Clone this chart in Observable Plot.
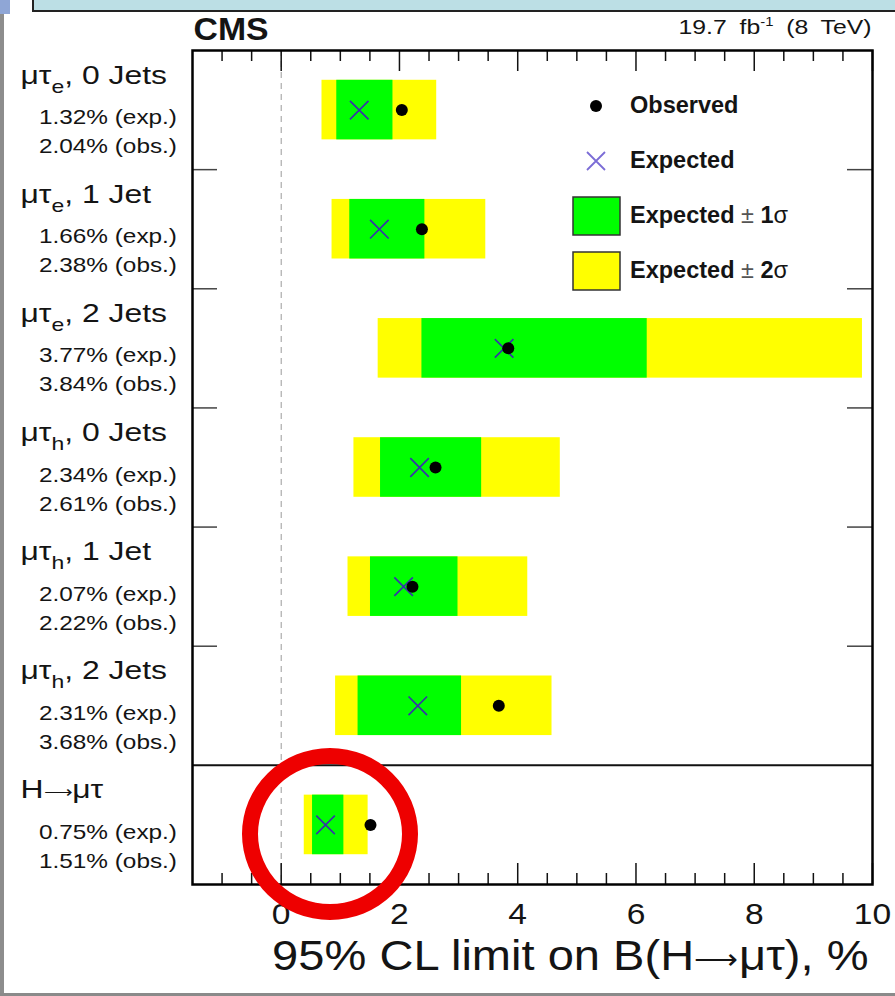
<!DOCTYPE html>
<html>
<head>
<meta charset="utf-8">
<script src="https://cdn.jsdelivr.net/npm/d3@7"></script>
<script src="https://cdn.jsdelivr.net/npm/@observablehq/plot@0.6"></script>
<style>
  html, body { margin: 0; padding: 0; background: #ffffff; }
  #wrap { position: relative; width: 895px; height: 996px; overflow: hidden; background: #fff; }
  #wrap svg { position: absolute; left: 0; top: 0; }
  .deco-top { position: absolute; left: 32px; top: 0; width: 870px; height: 10px; background: #bcdfe5;
              border-left: 2px solid #222; border-bottom: 2px solid #222; }
  .deco-left { position: absolute; left: 0; top: 0; width: 4px; height: 996px; background: #8d8d8d; }
  .deco-left-top { position: absolute; left: 0; top: 0; width: 10px; height: 14px; background: #8fa6d6; }
  .deco-bottom { position: absolute; left: 0; top: 993px; width: 895px; height: 3px; background: #8a8a8a; }
  .ring { position: absolute; left: 242px; top: 748px; width: 176px; height: 172px; box-sizing: border-box;
          border: 16px solid #ee0000; border-radius: 50%; }
</style>
</head>
<body>
<div id="wrap"></div>
<script>
// ---------------- data ----------------
const channels  = ["μτ", "μτ", "μτ", "μτ", "μτ", "μτ", "H⟶μτ"];
const subscripts = ["e", "e", "e", "h", "h", "h", ""];
const jetLabels = [", 0 Jets", ", 1 Jet", ", 2 Jets", ", 0 Jets", ", 1 Jet", ", 2 Jets", ""];
const expected  = [1.32, 1.66, 3.77, 2.34, 2.07, 2.31, 0.75];
const observed  = [2.04, 2.38, 3.84, 2.61, 2.22, 3.68, 1.51];
const minus2sig = [0.69, 0.86, 1.64, 1.23, 1.13, 0.92, 0.39];
const minus1sig = [0.94, 1.16, 2.38, 1.68, 1.51, 1.30, 0.53];
const plus1sig  = [1.89, 2.43, 6.19, 3.39, 2.99, 3.05, 1.06];
const plus2sig  = [2.63, 3.46, 9.83, 4.72, 4.17, 4.58, 1.47];

const majorTicks = [0, 2, 4, 6, 8, 10];
const minorTicks = [-1, -0.5, 0.5, 1, 1.5, 2.5, 3, 3.5, 4.5, 5, 5.5, 6.5, 7, 7.5, 8.5, 9, 9.5];
const rowBoundaries = [1, 2, 3, 4, 5];
const combinedBoundary = [6];

const axisTitle = "95% CL limit on B(H⟶μτ), %";
const experiment = "CMS";
const lumiMain = "19.7 fb", lumiSup = "-1", lumiTail = " (8 TeV)";
const legendLabels = ["Observed", "Expected", "Expected ± 1σ", "Expected ± 2σ"];

// ---------------- layout ----------------
const W = 895, H = 996;
const mL = 192, mR = 23, mT = 50, mB = 112;
const frameW = W - mL - mR;
const frameH = H - mT - mB;
const fontFamily = "'Liberation Sans', Arial, Helvetica, sans-serif";
const ink = "#141414";
const ARROW = "⟶";

const rows = expected.map((e, i) => ({
  i, yc: i + 0.5, y1: i + 0.25, y2: i + 0.75,
  label: channels[i] + subscripts[i] + jetLabels[i],
  exp: e, obs: observed[i],
  lo2: minus2sig[i], lo1: minus1sig[i], hi1: plus1sig[i], hi2: plus2sig[i]
}));

// text marks, in render order (used to find their groups afterwards)
const textMarks = [
  ["row-label", Plot.text(rows, {y: "yc", text: "label", frameAnchor: "left", textAnchor: "start", lineAnchor: "bottom",
      dx: -172, dy: -26.5, fontSize: 25.5, fill: ink})],
  ["exp-label", Plot.text(rows, {y: "yc", text: d => `${d.exp.toFixed(2)}% (exp.)`, frameAnchor: "left", textAnchor: "end",
      lineAnchor: "bottom", dx: -15.5, dy: 14, fontSize: 21, fill: ink})],
  ["obs-label", Plot.text(rows, {y: "yc", text: d => `${d.obs.toFixed(2)}% (obs.)`, frameAnchor: "left", textAnchor: "end",
      lineAnchor: "bottom", dx: -15.5, dy: 43, fontSize: 21, fill: ink})],
  ["tick-label", Plot.text(majorTicks, {x: d => d, text: d => String(d), frameAnchor: "bottom", lineAnchor: "bottom",
      dy: 39, fontSize: 30, fill: ink})],
  ["axis-title", Plot.text([axisTitle], {frameAnchor: "bottom-right", textAnchor: "end", lineAnchor: "bottom",
      dx: -4, dy: 85, fontSize: 43, fill: ink})],
  ["cms", Plot.text([experiment], {frameAnchor: "top-left", textAnchor: "start", lineAnchor: "bottom",
      dx: 1, dy: -11, fontSize: 31, fontWeight: "bold", fill: ink})],
  ["lumi", Plot.text([lumiMain + lumiSup + lumiTail], {frameAnchor: "top-right", textAnchor: "end", lineAnchor: "bottom",
      dx: -1, dy: -17, fontSize: 21, fill: ink})]
];

const plot = Plot.plot({
  width: W, height: H,
  marginLeft: mL, marginRight: mR, marginTop: mT, marginBottom: mB,
  style: {fontFamily, background: "transparent", overflow: "visible", color: ink},
  x: {domain: [-1.5, 10], axis: null},
  y: {domain: [0, 7], reverse: true, axis: null},
  marks: [
    Plot.rect(rows, {x1: "lo2", x2: "hi2", y1: "y1", y2: "y2", fill: "#ffff00"}),
    Plot.rect(rows, {x1: "lo1", x2: "hi1", y1: "y1", y2: "y2", fill: "#00ff00"}),
    Plot.ruleX([0], {stroke: "#9a9a9a", strokeDasharray: "6,5", strokeWidth: 1}),
    Plot.ruleY(combinedBoundary, {stroke: "#111", strokeWidth: 2}),
    Plot.tickY(rowBoundaries, {insetRight: frameW - 25, stroke: "#444", strokeWidth: 1.5}),
    Plot.tickY(rowBoundaries, {insetLeft: frameW - 25, stroke: "#444", strokeWidth: 1.5}),
    Plot.tickX(majorTicks, {insetBottom: frameH - 21, stroke: "#111", strokeWidth: 1.5}),
    Plot.tickX(majorTicks, {insetTop: frameH - 21, stroke: "#111", strokeWidth: 1.5}),
    Plot.tickX(minorTicks, {insetBottom: frameH - 11, stroke: "#111", strokeWidth: 1.5}),
    Plot.tickX(minorTicks, {insetTop: frameH - 11, stroke: "#111", strokeWidth: 1.5}),
    Plot.dot(rows, {x: "exp", y: "yc", symbol: "times", r: 8.5, stroke: "#3636a8", strokeWidth: 1.7}),
    Plot.dot(rows, {x: "obs", y: "yc", r: 6, fill: "#000", stroke: null}),
    Plot.frame({stroke: "#000", strokeWidth: 2.5}),
    ...textMarks.map(d => d[1])
  ]
});

const wrap = document.getElementById("wrap");
["deco-left", "deco-left-top", "deco-top", "deco-bottom"].forEach(c => {
  const d = document.createElement("div"); d.className = c; wrap.appendChild(d);
});
wrap.appendChild(plot);

// map names to rendered text groups (Plot labels them all "text", in mark order)
const textGroups = {};
const gs = plot.querySelectorAll(':scope > g[aria-label="text"]');
textMarks.forEach((d, k) => { textGroups[d[0]] = gs[k]; });
const textsOf = name => textGroups[name] ? Array.from(textGroups[name].querySelectorAll("text")) : [];

// write a string into a text element, drawing the long arrow narrower (as in ROOT's #rightarrow)
function appendWithArrow(sel, str, arrowSize) {
  const parts = str.split(ARROW);
  parts.forEach((p, k) => {
    if (k > 0) {
      sel.append("tspan").attr("font-size", arrowSize).attr("dy", -1).text(ARROW);
      sel.append("tspan").attr("dy", 1).text(p);
    } else if (p) sel.append("tspan").text(p);
  });
}

// ---------- rich text: subscripts & superscripts ----------
textsOf("row-label").forEach((t, i) => {
  const sel = d3.select(t);
  sel.text(null);
  appendWithArrow(sel, channels[i], "0.62em");
  if (subscripts[i]) {
    sel.append("tspan").attr("dy", 9).attr("font-size", "0.72em").text(subscripts[i]);
    sel.append("tspan").attr("dy", -9).text(jetLabels[i]);
  }
});
textsOf("axis-title").forEach(t => {
  const sel = d3.select(t);
  sel.text(null);
  appendWithArrow(sel, axisTitle, "0.66em");
});
textsOf("lumi").forEach(t => {
  const sel = d3.select(t);
  sel.text(null);
  sel.append("tspan").text(lumiMain);
  sel.append("tspan").attr("dy", -8).attr("font-size", "0.6em").text(lumiSup);
  sel.append("tspan").attr("dy", 8).text(lumiTail);
  sel.style("word-spacing", "5px");
});

// ---------- horizontal stretch to mimic the wider ROOT Helvetica ----------
function stretch(name, s) {
  textsOf(name).forEach(t => {
    const tr = t.getAttribute("transform");
    if (tr) t.setAttribute("transform", tr + ` scale(${s},1)`);
    else {
      const x = +t.getAttribute("x") || 0, y = +t.getAttribute("y") || 0;
      t.removeAttribute("x"); t.removeAttribute("y");
      t.setAttribute("transform", `translate(${x},${y}) scale(${s},1)`);
    }
  });
}
stretch("row-label", 1.25);
stretch("exp-label", 1.16);
stretch("obs-label", 1.16);
stretch("tick-label", 1.12);
stretch("axis-title", 1.095);
stretch("cms", 1.09);
stretch("lumi", 1.18);

// ---------- legend ----------
const svg = d3.select(plot);
const lg = svg.append("g").attr("font-family", fontFamily).attr("fill", ink).attr("text-anchor", "start");
const legendSymbolX = 596, legendTextX = 630, legendTop = 106, legendStep = 55;
legendLabels.forEach((label, k) => {
  const cy = legendTop + k * legendStep;
  if (k === 0) {
    lg.append("circle").attr("cx", legendSymbolX).attr("cy", cy).attr("r", 6).attr("fill", "#000");
  } else if (k === 1) {
    const s = 9;
    lg.append("path")
      .attr("d", `M${legendSymbolX - s},${cy - s}L${legendSymbolX + s},${cy + s}M${legendSymbolX + s},${cy - s}L${legendSymbolX - s},${cy + s}`)
      .attr("stroke", "#7b6cd6").attr("stroke-width", 1.8).attr("fill", "none");
  } else {
    lg.append("rect").attr("x", 573).attr("y", cy - 19).attr("width", 47).attr("height", 38)
      .attr("fill", k === 2 ? "#00ff00" : "#ffff00").attr("stroke", "#333").attr("stroke-width", 1.5);
  }
  const t = lg.append("text").attr("x", legendTextX).attr("y", cy + 7).attr("font-size", 23.5)
    .attr("text-anchor", "start");
  const parts = label.split(" ± ");
  t.append("tspan").attr("font-weight", "bold").text(parts[0]);
  if (parts.length > 1) {
    t.append("tspan").attr("fill", "#555").text(" ± ");
    t.append("tspan").attr("font-weight", "bold").text(parts[1].slice(0, -1));
    t.append("tspan").text(parts[1].slice(-1));
  }
});

// ---------- annotation ring ----------
const ring = document.createElement("div"); ring.className = "ring"; wrap.appendChild(ring);
</script>
</body>
</html>
